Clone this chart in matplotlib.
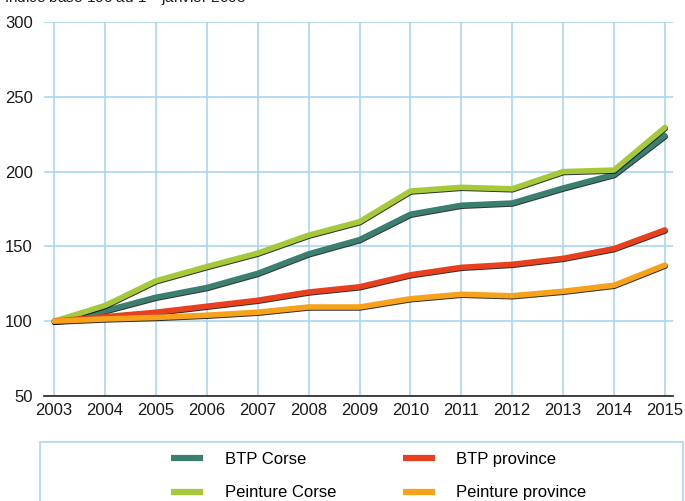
import matplotlib
matplotlib.use('Agg')
import matplotlib.pyplot as plt
import matplotlib.patheffects as pe
from matplotlib.patches import Rectangle

plt.rcParams['font.family'] = ['Liberation Sans', 'DejaVu Sans']

years = [2003, 2004, 2005, 2006, 2007, 2008, 2009, 2010, 2011, 2012, 2013, 2014, 2015]
btp_corse = [100, 107, 116, 122.5, 132, 145, 154.5, 171.5, 177.5, 179, 189, 198, 224]
peinture_corse = [100, 110.5, 127, 136.5, 145.5, 157.5, 166.5, 187, 189.5, 188.5, 200, 201, 229.5]
btp_province = [100, 103, 106, 110, 114, 119.5, 123, 131, 136, 138, 142, 148.5, 161]
peinture_province = [100, 101.5, 102.5, 104, 106, 109.5, 109.5, 115, 118, 117, 120, 124, 137.5]

series = [
    ('BTP Corse', btp_corse, '#3b7f70'),
    ('Peinture Corse', peinture_corse, '#a6c93a'),
    ('BTP province', btp_province, '#e8401f'),
    ('Peinture province', peinture_province, '#f6a31b'),
]

fig = plt.figure(figsize=(6.85, 5.01), dpi=100)
ax = fig.add_axes([44 / 685, 1 - 396 / 501, 629 / 685, 374 / 501])

grid_col = '#a9d6f2'
shadow = [pe.SimpleLineShadow(offset=(0.3, -0.7), shadow_color='black', alpha=0.8), pe.Normal()]

handles = {}
for name, vals, col in series:
    line, = ax.plot(years, vals, color=col, lw=4.0, solid_capstyle='round',
                    solid_joinstyle='round', path_effects=shadow, zorder=3)
    handles[name] = line

ax.set_xlim(2002.8, 2015.16)
ax.set_ylim(50, 300)
ax.set_xticks(years)
ax.set_yticks([50, 100, 150, 200, 250, 300])
ax.grid(True, color=grid_col, lw=1.2)
ax.set_axisbelow(True)
for s in ['top', 'right', 'left']:
    ax.spines[s].set_visible(False)
ax.spines['bottom'].set_color('#222222')
ax.spines['bottom'].set_linewidth(1.2)
ax.tick_params(length=0, labelsize=12, colors='#1a1a1a')
ax.tick_params(axis='y', pad=8)
ax.tick_params(axis='x', pad=5)

# title is partly cut off at the top, as in the original
fig.text(0.006, 1 - 3 / 501, 'Indice base 100 au 1$^{er}$ janvier 2003', fontsize=11,
         va='baseline', ha='left', color='#1a1a1a')

# legend frame, runs past the bottom edge
fig.patches.append(Rectangle((40 / 685, -0.05), 643 / 685, 0.05 + 1 - 442 / 501,
                             transform=fig.transFigure, fill=False, edgecolor=grid_col, lw=1.2))

order = ['BTP Corse', 'Peinture Corse', 'BTP province', 'Peinture province']
leg_handles = [plt.Line2D([], [], color=handles[n].get_color(), lw=4.5, solid_capstyle='butt')
               for n in order]
fig.legend(leg_handles, order, ncol=2, loc='upper left',
           bbox_to_anchor=(171 / 685, 1 - 452 / 501), frameon=False, fontsize=12,
           handlelength=1.92, handletextpad=1.3, columnspacing=4.0,
           labelspacing=1.1, borderpad=0, borderaxespad=0)

fig.savefig('out.png', dpi=100)
